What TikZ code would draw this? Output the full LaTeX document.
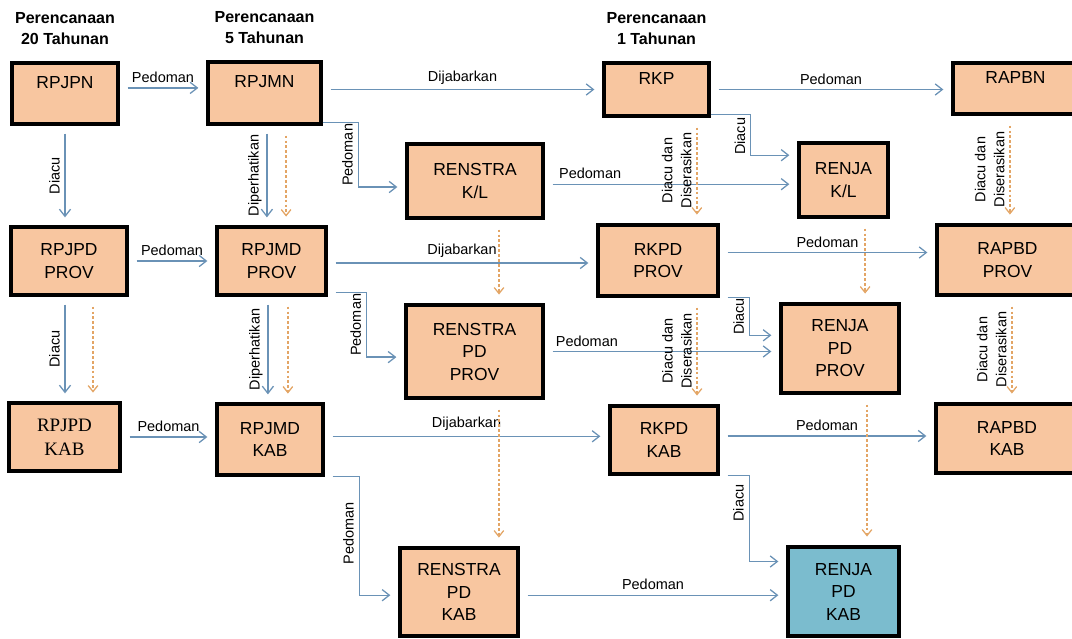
\documentclass[tikz,border=0pt]{standalone}
\usepackage{fontspec}
\setmainfont{Liberation Sans}
\newfontfamily\timesfont{Liberation Serif}
\definecolor{peach}{HTML}{F8C6A0}
\definecolor{aqua}{HTML}{7BBCCE}
\definecolor{linkblue}{HTML}{6A92B6}
\definecolor{deporange}{HTML}{E3A565}
\usetikzlibrary{arrows.meta, positioning, calc}

\begin{document}
\begin{tikzpicture}[x = 0.025cm, y = -0.025cm,
  box/.style = {rectangle, draw = black, line width = 2.3pt, fill = peach, align = center, inner sep = 0pt, font = \fontsize{12.4}{16}\selectfont},
  link/.style = {draw = linkblue, line width = 0.9pt, -{Straight Barb[length=1.8mm, width=2.8mm]}, shorten <= 0.2cm, shorten >= 0.2cm},
  dep/.style = {draw = deporange, line width = 0.9pt, dash pattern = on 2pt off 1.5pt, -{Straight Barb[length=1.5mm, width=2.4mm]}, shorten <= 0.25cm, shorten >= 0.22cm},
  lbl/.style = {font = \fontsize{10.3}{13.5}\selectfont, align = center},
  head/.style = {font = \bfseries\fontsize{11.4}{15}\selectfont, align = center, inner sep = 0pt}]
\useasboundingbox (0,0) rectangle (1072,638);

% national level
\node[box, minimum width = 2.65cm, minimum height = 1.525cm] (rpjpn) at (65,93.5) {RPJPN\\ \mbox{}};
\node[box, minimum width = 2.825cm, minimum height = 1.55cm] (rpjmn) at (264.5,93) {RPJMN\\ \mbox{}};
\node[box, minimum width = 2.625cm, minimum height = 1.325cm] (rkp) at (656.5,89.5) {RKP\\ \mbox{}};
\node[box, minimum width = 3.125cm, minimum height = 1.275cm] (rapbn) at (1015.5,88.5) {RAPBN\\ \mbox{}};
\node[box, minimum width = 3.4cm, minimum height = 1.85cm] (rskl) at (475,181) {RENSTRA\\K/L};
\node[box, minimum width = 2.225cm, minimum height = 1.85cm] (rjkl) at (843.5,180) {RENJA\\K/L};

% provinsi
\node[box, minimum width = 2.9cm, minimum height = 1.7cm] (rpjpdp) at (69,261) {RPJPD\\PROV};
\node[box, minimum width = 2.725cm, minimum height = 1.7cm] (rpjmdp) at (271.5,261) {RPJMD\\PROV};
\node[box, minimum width = 3cm, minimum height = 1.775cm] (rkpdp) at (658,260.5) {RKPD\\PROV};
\node[box, minimum width = 3.525cm, minimum height = 1.75cm] (rapbdp) at (1007.5,260) {RAPBD\\PROV};
\node[box, minimum width = 3.425cm, minimum height = 2.325cm] (rspdp) at (474.5,351.5) {RENSTRA\\PD\\PROV};
\node[box, minimum width = 2.95cm, minimum height = 2.225cm] (rjpdp) at (840,348.5) {RENJA\\PD\\PROV};

% kabupaten
\node[box, minimum width = 2.775cm, minimum height = 1.7cm, font = \timesfont\fontsize{13.5}{17}\selectfont] (rpjpdk) at (64.5,437) {RPJPD\\KAB};
\node[box, minimum width = 2.65cm, minimum height = 1.775cm] (rpjmdk) at (270,439.5) {RPJMD\\KAB};
\node[box, minimum width = 2.7cm, minimum height = 1.7cm] (rkpdk) at (664,440) {RKPD\\KAB};
\node[box, minimum width = 3.55cm, minimum height = 1.725cm] (rapbdk) at (1007,438.5) {RAPBD\\KAB};
\node[box, minimum width = 2.95cm, minimum height = 2.2cm] (rspdk) at (459,592) {RENSTRA\\PD\\KAB};
\node[box, minimum width = 2.775cm, minimum height = 2.225cm, fill = aqua] (rjpdk) at (843.5,591.5) {RENJA\\PD\\KAB};

\node[head, above = 0.4cm of rpjpn] (h20) {Perencanaan\\20 Tahunan};
\node[head, above = 0.4cm of rpjmn] (h5) {Perencanaan\\5 Tahunan};
\node[head, above = 0.4cm of rkp] (h1) {Perencanaan\\1 Tahunan};

% horizontal links
\draw[link] ([yshift = 0.14cm]rpjpn.east) -- ([yshift = 0.14cm]rpjpn.east -| rpjmn.west) node[lbl, midway, above] {Pedoman};
\draw[link] (rkp.west -| rpjmn.east) -- (rkp.west) node[lbl, midway, above] {Dijabarkan};
\draw[link] (rkp.east) -- (rkp.east -| rapbn.west) node[lbl, midway, above] {Pedoman};
\draw[link] ([yshift = -0.08cm]rskl.east) -- ([yshift = -0.08cm]rskl.east -| rjkl.west) node[lbl, pos = 0.18, above] {Pedoman};
\draw[link] (rpjpdp.east) -- (rpjpdp.east -| rpjmdp.west) node[lbl, midway, above] {Pedoman};
\draw[link] ([yshift = -0.05cm]rpjmdp.east) -- ([yshift = -0.05cm]rpjmdp.east -| rkpdp.west) node[lbl, midway, above] {Dijabarkan};
\draw[link] ([yshift = 0.2cm]rkpdp.east) -- ([yshift = 0.2cm]rkpdp.east -| rapbdp.west) node[lbl, midway, above] {Pedoman};
\draw[link] (rspdp.east) -- (rspdp.east -| rjpdp.west) node[lbl, pos = 0.18, above] {Pedoman};
\draw[link] (rpjpdk.east) -- (rpjpdk.east -| rpjmdk.west) node[lbl, midway, above] {Pedoman};
\draw[link] ([yshift = 0.08cm]rpjmdk.east) -- ([yshift = 0.08cm]rpjmdk.east -| rkpdk.west) node[lbl, midway, above] {Dijabarkan};
\draw[link] ([yshift = 0.1cm]rkpdk.east) -- ([yshift = 0.1cm]rkpdk.east -| rapbdk.west) node[lbl, midway, above] {Pedoman};
\draw[link] ([yshift = -0.08cm]rspdk.east) -- ([yshift = -0.08cm]rspdk.east -| rjpdk.west) node[lbl, midway, above] {Pedoman};

% vertical links
\draw[link] (rpjpn.south) -- (rpjpn.south |- rpjpdp.north) node[lbl, midway, rotate = 90, above] {Diacu};
\draw[link] ([xshift = 0.06cm]rpjmn.south) -- ([xshift = 0.06cm]rpjmn.south |- rpjmdp.north) node[lbl, midway, rotate = 90, above] {Diperhatikan};
\draw[link] ([xshift = -0.1cm]rpjpdp.south) -- ([xshift = -0.1cm]rpjpdp.south |- rpjpdk.north) node[lbl, midway, rotate = 90, above] {Diacu};
\draw[link] ([xshift = -0.09cm]rpjmdp.south) -- ([xshift = -0.09cm]rpjmdp.south |- rpjmdk.north) node[lbl, midway, rotate = 90, above] {Diperhatikan};

% elbow links
\draw[link, shorten <= 0pt] ([yshift = 0.07cm]rpjmn.south east) -| node[lbl, pos = 0.75, rotate = 90, above] {Pedoman} ([xshift = -1.18cm, yshift = -0.15cm]rskl.west) -- ([yshift = -0.15cm]rskl.west);
\draw[link, shorten <= 0pt] ([yshift = 0.08cm]rkp.south east) -| node[lbl, pos = 0.77, rotate = 90, above] {Diacu} ([xshift = -1.17cm, yshift = 0.62cm]rjkl.west) -- ([yshift = 0.62cm]rjkl.west);
\draw[link] ([yshift = 0.1cm]rpjmdp.south east) -| node[lbl, pos = 0.75, rotate = 90, above] {Pedoman} ([xshift = -0.95cm, yshift = -0.14cm]rspdp.west) -- ([yshift = -0.14cm]rspdp.west);
\draw[link] (rkpdp.south east) -| node[lbl, pos = 0.75, rotate = 90, above] {Diacu} ([xshift = -0.75cm, yshift = 0.33cm]rjpdp.west) -- ([yshift = 0.33cm]rjpdp.west);
\draw[link] (rpjmdk.south east) -| node[lbl, pos = 0.74, rotate = 90, above] {Pedoman} ([xshift = -0.98cm, yshift = -0.08cm]rspdk.west) -- ([yshift = -0.08cm]rspdk.west);
\draw[link] (rkpdk.south east) -| node[lbl, pos = 0.66, rotate = 90, above] {Diacu} ([xshift = -0.93cm, yshift = 0.75cm]rjpdk.west) -- ([yshift = 0.75cm]rjpdk.west);

% dashed links
\draw[dep] ([xshift = 0.54cm]rpjmn.south) -- ([xshift = 0.54cm]rpjmn.south |- rpjmdp.north);
\draw[dep] ([xshift = 0.6cm]rpjpdp.south) -- ([xshift = 0.6cm]rpjpdp.south |- rpjpdk.north);
\draw[dep] ([xshift = 0.41cm]rpjmdp.south) -- ([xshift = 0.41cm]rpjmdp.south |- rpjmdk.north);
\draw[dep] ([xshift = 0.6cm]rskl.south) -- ([xshift = 0.6cm]rskl.south |- rspdp.north);
\draw[dep] ([xshift = 0.61cm]rspdp.south) -- ([xshift = 0.61cm]rspdp.south |- rspdk.north);
\draw[dep] ([xshift = 0.54cm]rjkl.south) -- ([xshift = 0.54cm]rjkl.south |- rjpdp.north);
\draw[dep] ([xshift = 0.675cm]rjpdp.south) -- ([xshift = 0.675cm]rjpdp.south |- rjpdk.north);
\draw[dep] ([xshift = 1.01cm]rkp.south) -- ([xshift = 1.01cm]rkp.south |- rkpdp.north) node[lbl, midway, rotate = 90, above] {Diacu dan\\Diserasikan};
\draw[dep] ([xshift = 0.975cm]rkpdp.south) -- ([xshift = 0.975cm]rkpdp.south |- rkpdk.north) node[lbl, midway, rotate = 90, above] {Diacu dan\\Diserasikan};
\draw[dep] ([xshift = -0.14cm]rapbn.south) -- ([xshift = -0.14cm]rapbn.south |- rapbdp.north) node[lbl, midway, rotate = 90, above] {Diacu dan\\Diserasikan};
\draw[dep] ([xshift = 0.11cm]rapbdp.south) -- ([xshift = 0.11cm]rapbdp.south |- rapbdk.north) node[lbl, midway, rotate = 90, above] {Diacu dan\\Diserasikan};
\end{tikzpicture}
\end{document}
